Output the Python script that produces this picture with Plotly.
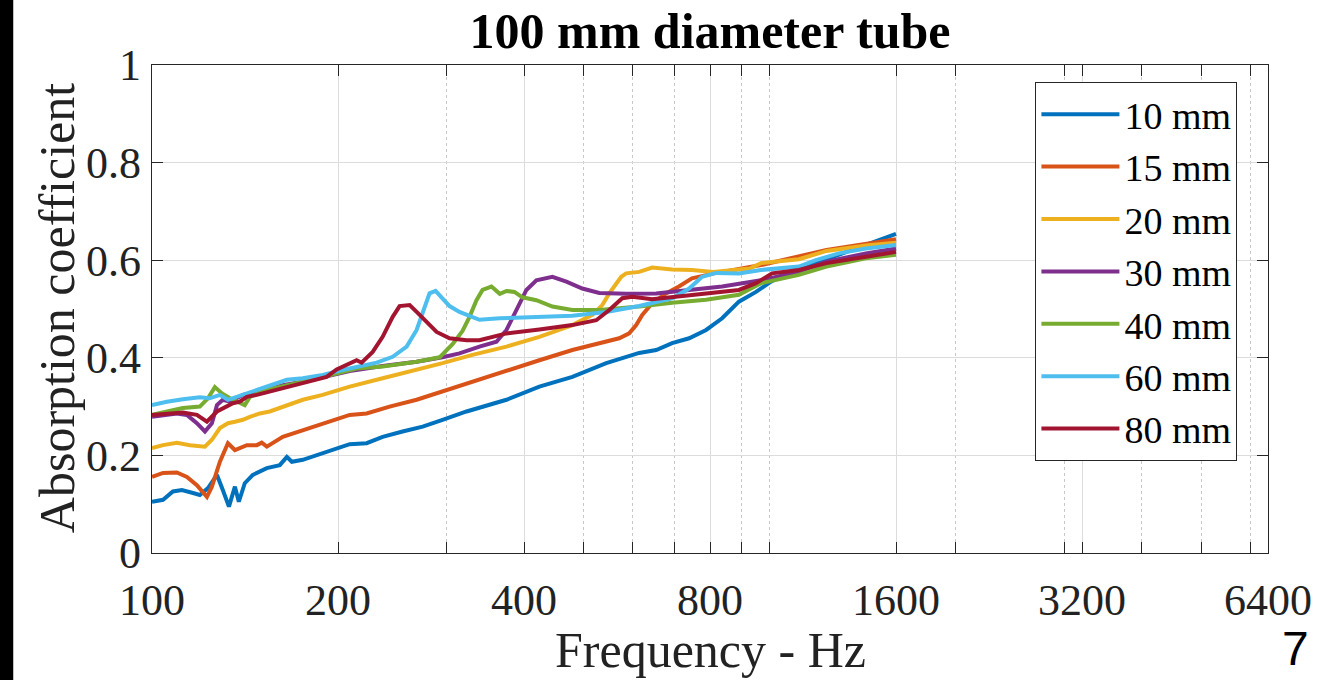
import plotly.graph_objects as go

# ---------------- data ----------------
labels = ["10 mm", "15 mm", "20 mm", "30 mm", "40 mm", "60 mm", "80 mm"]

freq_10 = [100, 104.2, 108.1, 111.8, 116.5, 119.5, 123.2, 127.4, 130.2, 133.2, 136.2, 138.2, 141.3,
           145.6, 153.4, 161.0, 165.3, 168.4, 175.4, 188.9, 200, 208.9, 222.5, 236.2, 254.4, 274.2,
           295.3, 322.9, 374.7, 423.6, 479, 543.5, 614.4, 654.6, 694.8, 740.2, 788.5, 837, 891,
           949.6, 1004, 1062, 1187, 1293, 1430, 1600]
abs_10 = [0.105, 0.109, 0.126, 0.129, 0.123, 0.119, 0.133, 0.160, 0.129, 0.095, 0.136, 0.105, 0.143,
          0.160, 0.174, 0.180, 0.197, 0.187, 0.191, 0.205, 0.215, 0.223, 0.225, 0.238, 0.249, 0.259,
          0.273, 0.290, 0.314, 0.341, 0.361, 0.389, 0.410, 0.416, 0.430, 0.440, 0.457, 0.481, 0.515,
          0.535, 0.556, 0.573, 0.594, 0.611, 0.631, 0.654]

freq_15 = [100, 104.2, 109.7, 113.9, 118.2, 122.7, 125.0, 128.8, 132.7, 136.2, 142.4, 147.8, 150.5,
           153.4, 162.8, 175.4, 188.9, 208.9, 222.5, 242.4, 268.1, 295.3, 322.9, 374.7, 423.6, 479,
           543.5, 570.4, 592.0, 607.6, 621.5, 645, 679, 712.5, 747.9, 788.5, 812.5, 967.6, 1235, 1600]
abs_15 = [0.156, 0.164, 0.165, 0.156, 0.139, 0.115, 0.136, 0.187, 0.225, 0.211, 0.221, 0.221, 0.226,
          0.218, 0.238, 0.252, 0.266, 0.283, 0.286, 0.300, 0.314, 0.331, 0.348, 0.375, 0.395, 0.416,
          0.433, 0.440, 0.450, 0.467, 0.488, 0.512, 0.532, 0.546, 0.563, 0.570, 0.573, 0.590, 0.621, 0.643]

freq_20 = [100, 104.2, 109.7, 115.2, 121.8, 125.0, 128.8, 132.7, 136.2, 140.3, 144.0, 149.5, 155.1,
           162.8, 175.4, 188.9, 208.9, 236.2, 268.1, 295.3, 330.1, 374.7, 423.6, 479, 515.8, 535.5,
           549.6, 564.1, 574.7, 585.3, 614.4, 645, 694.8, 747.9, 809.3, 927, 967.6, 1114, 1235, 1430, 1600]
abs_20 = [0.215, 0.221, 0.226, 0.221, 0.218, 0.232, 0.256, 0.266, 0.269, 0.273, 0.279, 0.286, 0.290,
          0.300, 0.314, 0.324, 0.341, 0.358, 0.375, 0.389, 0.406, 0.423, 0.443, 0.467, 0.488, 0.508,
          0.532, 0.553, 0.566, 0.573, 0.576, 0.585, 0.581, 0.580, 0.576, 0.583, 0.594, 0.602, 0.619,
          0.630, 0.636]

freq_30 = [100, 104.2, 109.7, 113.9, 118.2, 121.8, 125.0, 127.4, 130.2, 133.7, 140.3, 153.4, 162.8,
           175.4, 188.9, 208.9, 236.2, 268.1, 295.3, 314.5, 338.8, 361, 374.7, 388.9, 403.6, 418.9,
           444.6, 468.4, 497.1, 529.6, 585.3, 654.6, 740.2, 837, 967.6, 1114, 1235, 1430, 1600]
abs_30 = [0.279, 0.283, 0.286, 0.283, 0.266, 0.249, 0.266, 0.303, 0.314, 0.310, 0.324, 0.334, 0.344,
          0.351, 0.361, 0.373, 0.383, 0.392, 0.401, 0.409, 0.423, 0.433, 0.457, 0.498, 0.539, 0.559,
          0.566, 0.556, 0.542, 0.533, 0.531, 0.532, 0.539, 0.546, 0.559, 0.576, 0.597, 0.614, 0.624]

freq_40 = [100, 105.7, 112.2, 119.5, 123.2, 126.4, 129.8, 133.7, 137.7, 141.3, 144.0, 153.4, 175.4,
           199, 214.4, 236.2, 268.1, 292, 306.5, 318.1, 326.5, 335.1, 342.7, 354.3, 365.5, 374.7, 386,
           397.6, 418.9, 444.6, 479, 529.6, 614.4, 694.8, 788.5, 891, 967.6, 1114, 1235, 1430, 1600]
abs_40 = [0.283, 0.290, 0.297, 0.300, 0.317, 0.340, 0.327, 0.317, 0.310, 0.303, 0.320, 0.334, 0.351,
          0.368, 0.378, 0.382, 0.392, 0.401, 0.428, 0.455, 0.484, 0.518, 0.539, 0.546, 0.531, 0.537,
          0.535, 0.524, 0.518, 0.505, 0.498, 0.498, 0.505, 0.513, 0.519, 0.529, 0.553, 0.570, 0.587,
          0.604, 0.611]

freq_60 = [100, 105.7, 112.2, 119.5, 124, 128.8, 132.7, 142.4, 153.4, 165.3, 175.4, 188.9, 203.5,
           216.8, 231, 245.2, 258.3, 268.1, 274.1, 281.3, 287.7, 295.3, 303.1, 314.5, 326.5, 338.8,
           365.5, 423.6, 479, 543.5, 614.4, 694.8, 740.2, 776.8, 818.4, 891, 967.6, 1114, 1187, 1293,
           1430, 1600]
abs_60 = [0.303, 0.310, 0.315, 0.319, 0.317, 0.324, 0.314, 0.327, 0.341, 0.355, 0.358, 0.365, 0.375,
          0.382, 0.390, 0.402, 0.423, 0.457, 0.491, 0.532, 0.537, 0.520, 0.506, 0.494, 0.486, 0.478,
          0.481, 0.483, 0.486, 0.494, 0.506, 0.522, 0.542, 0.566, 0.574, 0.573, 0.580, 0.587, 0.600,
          0.614, 0.624, 0.631]

freq_80 = [100, 105.7, 112.2, 118.2, 122.7, 127.4, 132.2, 135.2, 138.7, 142.4, 147.8, 162.8, 175.4,
           191.7, 199, 208.9, 214.4, 218.4, 227.6, 236.2, 245.2, 251.6, 261.2, 268.1, 278.2, 288.8,
           303.1, 322.9, 338.8, 374.7, 423.6, 479, 523.6, 549.6, 576.9, 598.7, 645, 694.8, 788.5, 891,
           949.6, 1008, 1114, 1235, 1430, 1600]
abs_80 = [0.283, 0.286, 0.288, 0.283, 0.269, 0.290, 0.300, 0.307, 0.310, 0.320, 0.324, 0.337, 0.348,
          0.361, 0.376, 0.389, 0.395, 0.390, 0.412, 0.443, 0.484, 0.506, 0.508, 0.494, 0.474, 0.453,
          0.440, 0.436, 0.436, 0.450, 0.458, 0.467, 0.477, 0.498, 0.522, 0.525, 0.520, 0.524, 0.532,
          0.539, 0.553, 0.573, 0.580, 0.594, 0.607, 0.617]

x_tick_vals = [100, 200, 400, 800, 1600, 3200, 6400]
x_tick_text = ["100", "200", "400", "800", "1600", "3200", "6400"]
x_minor_vals = [300, 500, 600, 700, 900, 1000, 2000, 3000, 4000, 5000, 6000]
y_tick_vals = [0, 0.2, 0.4, 0.6, 0.8, 1.0]
y_tick_text = ["0", "0.2", "0.4", "0.6", "0.8", "1"]

title_text = "100 mm diameter tube"
x_title = "Frequency - Hz"
y_title = "Absorption coefficient"
page_number = "7"

# ---------------- styling ----------------
colors = ["#0072BD", "#D95319", "#EDB120", "#7E2F8E", "#77AC30", "#4DBEEE", "#A2142F"]
SERIF = "Liberation Serif, Times New Roman, serif"
AXC = "#262626"
GRID = "#dcdcdc"

freqs = [freq_10, freq_15, freq_20, freq_30, freq_40, freq_60, freq_80]
vals = [abs_10, abs_15, abs_20, abs_30, abs_40, abs_60, abs_80]

fig = go.Figure()
for name, fx, vy, c in zip(labels, freqs, vals, colors):
    fig.add_trace(go.Scatter(x=fx, y=vy, mode="lines", name=name,
                             line=dict(color=c, width=4)))

W, H = 1324, 680
L, R, T, B = 152, 54, 65, 127
pw, ph = W - L - R, H - T - B


def px_x(px):
    return (px - L) / pw


def px_y(py):
    return (H - B - py) / ph


fig.update_layout(
    width=W, height=H,
    margin=dict(l=L, r=R, t=T, b=B, pad=0),
    paper_bgcolor="white", plot_bgcolor="white",
    font=dict(family=SERIF, color="#222222"),
    title=dict(text="<b>" + title_text + "</b>", x=0.5, xref="paper", xanchor="center",
               y=1 - 30 / H, yref="container", yanchor="middle",
               font=dict(family=SERIF, size=50, color="#000000")),
    showlegend=True,
    legend=dict(x=px_x(1037), y=px_y(82), xanchor="left", yanchor="top",
                bgcolor="white", bordercolor=AXC, borderwidth=1,
                font=dict(family=SERIF, size=38, color="#000000"),
                itemwidth=78, tracegroupgap=0),
    xaxis=dict(type="log", range=[2, 3.80618], tickmode="array",
               tickvals=x_tick_vals, ticktext=x_tick_text,
               tickfont=dict(family=SERIF, size=44, color="#222222"),
               ticks="inside", ticklen=11, tickcolor=AXC, tickwidth=1,
               ticklabelstandoff=8,
               showline=True, linecolor=AXC, linewidth=1.2, mirror="ticks",
               showgrid=True, gridcolor=GRID, gridwidth=1, zeroline=False,
               minor=dict(tickvals=x_minor_vals, ticks="inside", ticklen=11,
                          tickcolor=AXC, showgrid=True, gridcolor="#c8c8c8",
                          griddash="dot", gridwidth=1)),
    yaxis=dict(range=[0, 1], tickmode="array", tickvals=y_tick_vals, ticktext=y_tick_text,
               tickfont=dict(family=SERIF, size=44, color="#222222"),
               ticks="inside", ticklen=11, tickcolor=AXC, tickwidth=1,
               ticklabelstandoff=1,
               showline=True, linecolor=AXC, linewidth=1.2, mirror="ticks",
               showgrid=True, gridcolor=GRID, gridwidth=1, zeroline=False),
)

# axis titles
fig.add_annotation(text=x_title, xref="paper", yref="paper", x=px_x(711), y=px_y(650),
                   xanchor="center", yanchor="middle", showarrow=False,
                   font=dict(family=SERIF, size=50, color="#222222"))
fig.add_annotation(text=y_title, xref="paper", yref="paper", x=px_x(57), y=px_y(308),
                   xanchor="center", yanchor="middle", showarrow=False, textangle=-90,
                   font=dict(family=SERIF, size=50, color="#222222"))

# black strip along the left edge of the page image
fig.add_shape(type="rect", xref="paper", yref="paper",
              x0=px_x(0) - 0.01, x1=px_x(13), y0=px_y(H) - 0.05, y1=px_y(0) + 0.05,
              fillcolor="black", line=dict(width=0), layer="above")

# page number
fig.add_annotation(text=page_number, xref="paper", yref="paper",
                   x=px_x(1298), y=px_y(648),
                   xanchor="center", yanchor="middle", showarrow=False,
                   font=dict(family="Liberation Sans, Arial, sans-serif", size=48, color="#000000"))

fig.write_html("out.html", config={"displayModeBar": False},
               post_script="document.body.style.margin='0px';document.body.style.overflow='hidden';")
